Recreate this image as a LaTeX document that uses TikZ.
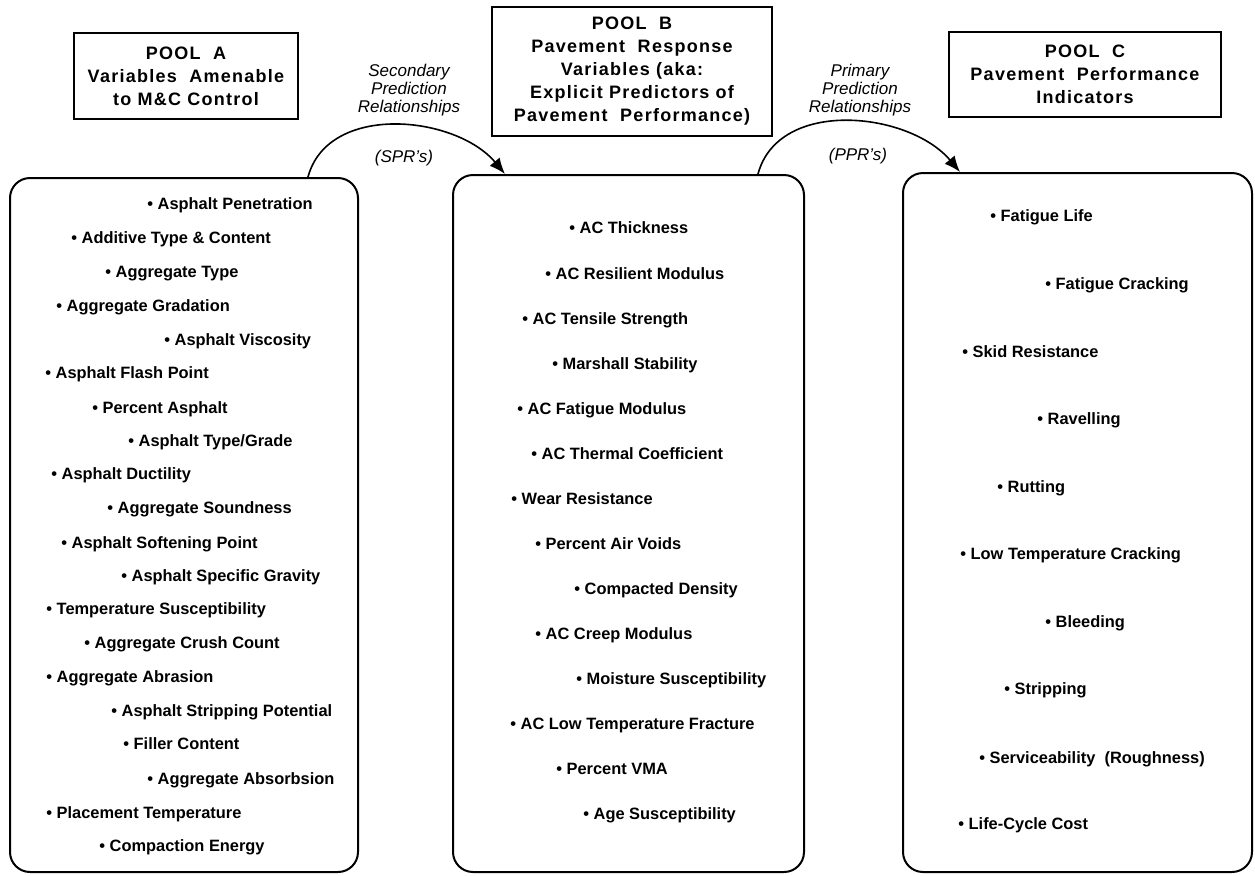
\documentclass[tikz,border=0pt]{standalone}
\usepackage{fontspec}
\setmainfont{Liberation Sans}
\newfontfamily\titlefont[LetterSpace=7]{Liberation Sans}
\usepackage{tikz}
\usetikzlibrary{arrows.meta}
\tikzset{poolbox/.style={draw, line width=1pt, rounded corners=10pt, inner sep=0pt}}
\tikzset{poolhead/.style={draw, line width=1pt, align=center, inner sep=0pt, font=\titlefont\bfseries\fontsize{9}{11.5}\selectfont}}
\tikzset{listitem/.style={anchor=base west, inner sep=0pt, font=\bfseries\fontsize{8.2}{10}\selectfont}}
\tikzset{relnote/.style={align=center, inner sep=0pt, font=\itshape\fontsize{8.5}{9}\selectfont}}
\tikzset{relarrow/.style={line width=0.8pt, -{Latex[length=8pt, width=6.5pt]}}}

\begin{document}
\begin{tikzpicture}[x=0.5pt, y=-0.5pt]
    \useasboundingbox (0, 0) rectangle (1255, 875);

    \node (poolA) at (186, 76) [poolhead, minimum width=112pt, minimum height=43pt] {POOL\ \ A\\Variables\ \ Amenable\\to M\&C Control};
    \node (poolB) at (632, 71.5) [poolhead, minimum width=140pt, minimum height=64.5pt] {POOL\ \ B\\Pavement\ \ Response\\Variables (aka:\\Explicit Predictors of\\Pavement\ \ Performance)};
    \node (poolC) at (1085, 74.5) [poolhead, minimum width=136pt, minimum height=42.5pt] {POOL\ \ C\\Pavement\ \ Performance\\Indicators};

    \node (boxA) at (184, 525) [poolbox, minimum width=174pt, minimum height=347pt] {};
    \node (boxB) at (628.5, 523.5) [poolbox, minimum width=175.5pt, minimum height=348.5pt] {};
    \node (boxC) at (1077.5, 522.5) [poolbox, minimum width=174.5pt, minimum height=349.5pt] {};

    \node (sprtxt) at (409, 90) [relnote] {Secondary\\Prediction\\Relationships};
    \node (sprabbr) at (404, 158) [relnote] {(SPR's)};
    \node (pprtxt) at (860, 90) [relnote] {Primary\\Prediction\\Relationships};
    \node (pprabbr) at (858, 156) [relnote] {(PPR's)};

    \draw[relarrow] ([xshift=62pt]boxA.north) to[out=75, in=130] ([xshift=-61.75pt]boxB.north);
    \draw[relarrow] ([xshift=64.75pt]boxB.north) to[out=75, in=130] ([xshift=-58.75pt]boxC.north);

    \node (a1) at (147, 209) [listitem] {\textbullet\ Asphalt Penetration};
    \node (a2) at (71, 243) [listitem] {\textbullet\ Additive Type \& Content};
    \node (a3) at (105, 277) [listitem] {\textbullet\ Aggregate Type};
    \node (a4) at (56, 311) [listitem] {\textbullet\ Aggregate Gradation};
    \node (a5) at (164, 345) [listitem] {\textbullet\ Asphalt Viscosity};
    \node (a6) at (45, 378) [listitem] {\textbullet\ Asphalt Flash Point};
    \node (a7) at (92, 413) [listitem] {\textbullet\ Percent Asphalt};
    \node (a8) at (128, 446) [listitem] {\textbullet\ Asphalt Type/Grade};
    \node (a9) at (51, 479) [listitem] {\textbullet\ Asphalt Ductility};
    \node (a10) at (107, 513) [listitem] {\textbullet\ Aggregate Soundness};
    \node (a11) at (61, 548) [listitem] {\textbullet\ Asphalt Softening Point};
    \node (a12) at (121, 581) [listitem] {\textbullet\ Asphalt Specific Gravity};
    \node (a13) at (46, 614) [listitem] {\textbullet\ Temperature Susceptibility};
    \node (a14) at (84, 648) [listitem] {\textbullet\ Aggregate Crush Count};
    \node (a15) at (46, 682) [listitem] {\textbullet\ Aggregate Abrasion};
    \node (a16) at (111, 716) [listitem] {\textbullet\ Asphalt Stripping Potential};
    \node (a17) at (123, 749) [listitem] {\textbullet\ Filler Content};
    \node (a18) at (147, 784) [listitem] {\textbullet\ Aggregate Absorbsion};
    \node (a19) at (46, 818) [listitem] {\textbullet\ Placement Temperature};
    \node (a20) at (99, 851) [listitem] {\textbullet\ Compaction Energy};

    \node (b1) at (569, 233) [listitem] {\textbullet\ AC Thickness};
    \node (b2) at (545, 279) [listitem] {\textbullet\ AC Resilient Modulus};
    \node (b3) at (522, 324) [listitem] {\textbullet\ AC Tensile Strength};
    \node (b4) at (552, 369) [listitem] {\textbullet\ Marshall Stability};
    \node (b5) at (517, 414) [listitem] {\textbullet\ AC Fatigue Modulus};
    \node (b6) at (531, 459) [listitem] {\textbullet\ AC Thermal Coefficient};
    \node (b7) at (511, 504) [listitem] {\textbullet\ Wear Resistance};
    \node (b8) at (535, 549) [listitem] {\textbullet\ Percent Air Voids};
    \node (b9) at (574, 594) [listitem] {\textbullet\ Compacted Density};
    \node (b10) at (535, 639) [listitem] {\textbullet\ AC Creep Modulus};
    \node (b11) at (576, 684) [listitem] {\textbullet\ Moisture Susceptibility};
    \node (b12) at (510, 729) [listitem] {\textbullet\ AC Low Temperature Fracture};
    \node (b13) at (556, 774) [listitem] {\textbullet\ Percent VMA};
    \node (b14) at (583, 819) [listitem] {\textbullet\ Age Susceptibility};

    \node (c1) at (990, 221) [listitem] {\textbullet\ Fatigue Life};
    \node (c2) at (1045, 289) [listitem] {\textbullet\ Fatigue Cracking};
    \node (c3) at (962, 357) [listitem] {\textbullet\ Skid Resistance};
    \node (c4) at (1037, 424) [listitem] {\textbullet\ Ravelling};
    \node (c5) at (997, 492) [listitem] {\textbullet\ Rutting};
    \node (c6) at (960, 559) [listitem] {\textbullet\ Low Temperature Cracking};
    \node (c7) at (1045, 627) [listitem] {\textbullet\ Bleeding};
    \node (c8) at (1004, 694) [listitem] {\textbullet\ Stripping};
    \node (c9) at (979, 763) [listitem] {\textbullet\ Serviceability\ \ (Roughness)};
    \node (c10) at (958, 829) [listitem] {\textbullet\ Life-Cycle Cost};
\end{tikzpicture}
\end{document}
